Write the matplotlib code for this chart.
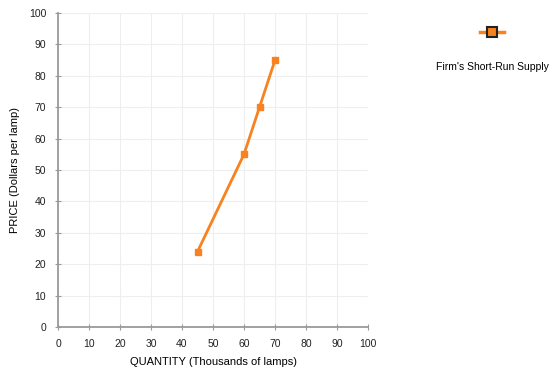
import matplotlib.pyplot as plt
from matplotlib.lines import Line2D

plt.rcParams['font.family'] = ['Liberation Sans', 'DejaVu Sans']

# data
quantity = [45, 60, 65, 70]
price = [24, 55, 70, 85]
series_name = "Firm's Short-Run Supply"
ticks = list(range(0, 101, 10))

orange = '#f7821f'
axis_gray = '#9a9a9a'

fig = plt.figure(figsize=(5.6, 3.74), dpi=100)
ax = fig.add_axes([58 / 560, 1 - 327 / 374, 310 / 560, 314 / 374])

ax.plot(quantity, price, color=orange, linewidth=2, marker='s', markersize=5,
        markerfacecolor=orange, markeredgecolor=orange, zorder=3)

ax.set_xlim(0, 100)
ax.set_ylim(0, 100)
ax.set_xticks(ticks)
ax.set_yticks(ticks)
ax.grid(True, color='#eeeeee', linewidth=0.8)
ax.set_axisbelow(True)

for side in ['top', 'right']:
    ax.spines[side].set_visible(False)
for side in ['left', 'bottom']:
    ax.spines[side].set_color(axis_gray)
    ax.spines[side].set_linewidth(1.3)
ax.tick_params(direction='inout', length=5, width=0.8, color=axis_gray,
               labelsize=7.5, labelcolor='#222222', pad=6)

ax.set_xlabel('QUANTITY (Thousands of lamps)', fontsize=8, labelpad=6)
ax.set_ylabel('PRICE (Dollars per lamp)', fontsize=8, labelpad=6)

# legend drawn by hand: icon above the text
fig.add_artist(Line2D([480 / 560, 504 / 560], [1 - 32 / 374] * 2, color=orange,
                      linewidth=2.5, transform=fig.transFigure))
fig.add_artist(Line2D([492 / 560], [1 - 32 / 374], marker='s', markersize=7,
                      markerfacecolor=orange, markeredgecolor='#222222',
                      markeredgewidth=1.5, linestyle='none', transform=fig.transFigure))
fig.text(492 / 560, 1 - 67 / 374, series_name, ha='center', va='center', fontsize=7.5)

fig.savefig('out.png', dpi=100)
